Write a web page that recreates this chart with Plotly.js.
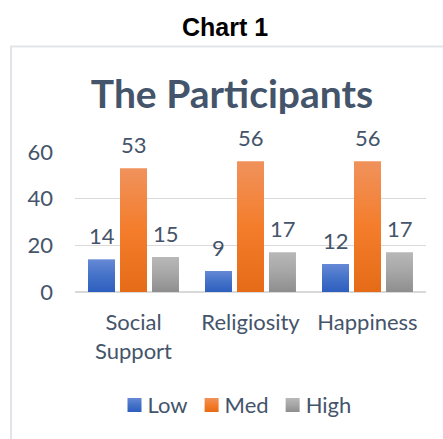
<!DOCTYPE html>
<html><head><meta charset="utf-8">
<script src="https://cdn.plot.ly/plotly-3.0.1.min.js"></script>
<style>html,body{margin:0;padding:0;background:#fff;}#chart{width:443px;height:439px;}</style>
</head><body><div id="chart"></div>
<script>
const categories = ["Social<br>Support", "Religiosity", "Happiness"];
const seriesNames = ["Low", "Med", "High"];
const lowVals = [14, 9, 12];
const medVals = [53, 56, 56];
const highVals = [15, 17, 17];
const yTicks = [0, 20, 40, 60];

const colors = ["#4472C4", "#ED7D31", "#A5A5A5"];
const grads = [["#6689d6", "#4472c8", "#2e5fc0"], ["#f0925c", "#f47d2b", "#e56b17"], ["#b8b8b8", "#a6a6a6", "#8e8e8e"]];
const textColor = "#44546A";
const fontFam = "Lato, 'Noto Sans', sans-serif";
const fs = 22;

const allVals = [lowVals, medVals, highVals];
const traces = allVals.map((v, i) => ({
  type: "bar", name: seriesNames[i], x: categories, y: v,
  marker: {color: colors[i]}, hoverinfo: "none"
}));

const L = 75, R = 426, T = 152, B = 292.5;
const px = x => (x - L) / (R - L);
const py = y => (B - y) / (B - T);

const shifts = [-32, 0, 32];
const annotations = [];
allVals.forEach((v, i) => {
  v.forEach((val, j) => {
    annotations.push({x: categories[j], y: val, xref: "x", yref: "y", text: String(val),
      showarrow: false, xshift: shifts[i], yshift: 24, yanchor: "middle",
      font: {family: fontFam, size: fs, color: textColor}});
  });
});
annotations.push({x: px(225), y: py(27), xref: "paper", yref: "paper", text: "<b>Chart 1</b>",
  showarrow: false, xanchor: "center", yanchor: "middle",
  font: {family: "'Liberation Sans', Arial, sans-serif", size: 25, color: "#000"}});

const layout = {
  width: 443, height: 439,
  margin: {l: L, r: 443 - R, t: T, b: 439 - B},
  paper_bgcolor: "#fff", plot_bgcolor: "#fff",
  barmode: "group", bargap: 0.18, bargroupgap: 0.156,
  showlegend: true,
  title: {text: "<b>The Participants</b>", x: 232 / 443, xref: "container", xanchor: "center",
    y: 1 - 94 / 439, yref: "container", yanchor: "middle",
    font: {family: fontFam, size: 39, color: textColor}},
  xaxis: {tickfont: {family: fontFam, size: fs, color: textColor}, showline: false, ticks: "",
    ticklabelstandoff: 15, fixedrange: true},
  yaxis: {range: [0, 60], tickvals: yTicks, tickfont: {family: fontFam, size: fs, color: textColor},
    showgrid: true, gridcolor: "#d9d9d9", gridwidth: 1.5, zeroline: true, zerolinecolor: "#d9d9d9",
    zerolinewidth: 1.5, showline: false, ticks: "", ticklabelstandoff: 21, fixedrange: true},
  legend: {orientation: "h", x: px(237), xanchor: "center", y: py(406), yanchor: "middle",
    font: {family: fontFam, size: fs, color: textColor}, itemwidth: 30, traceorder: "normal"},
  annotations: annotations,
  shapes: [{type: "rect", xref: "paper", yref: "paper", x0: px(11), x1: px(470), y0: py(470), y1: py(46),
    line: {color: "#e1e5ea", width: 2}, fillcolor: "rgba(0,0,0,0)", layer: "below"}]
};

Plotly.newPlot("chart", traces, layout, {staticPlot: true}).then(gd => {
  const svg = gd.querySelector("svg.main-svg");
  const ns = "http://www.w3.org/2000/svg";
  let defs = svg.querySelector("defs");
  if (!defs) { defs = document.createElementNS(ns, "defs"); svg.insertBefore(defs, svg.firstChild); }
  grads.forEach((g, i) => {
    const lg = document.createElementNS(ns, "linearGradient");
    lg.setAttribute("id", "bargrad" + i);
    lg.setAttribute("x1", "0"); lg.setAttribute("y1", "0"); lg.setAttribute("x2", "0"); lg.setAttribute("y2", "1");
    [[0, g[0]], [0.5, g[1]], [1, g[2]]].forEach(([o, c]) => {
      const s = document.createElementNS(ns, "stop");
      s.setAttribute("offset", o); s.setAttribute("stop-color", c); lg.appendChild(s);
    });
    defs.appendChild(lg);
  });
  gd.querySelectorAll(".barlayer .trace").forEach((tr, i) => {
    tr.querySelectorAll("path").forEach(p => { p.style.fill = "url(#bargrad" + i + ")"; });
  });
  // Excel-like legend: bigger squares, text closer to the icon, tighter item pitch
  const items = gd.querySelectorAll(".legend .traces");
  items.forEach((tr, i) => {
    tr.querySelectorAll(".legendpoints path").forEach(p => {
      p.setAttribute("d", "M7,7H-7V-7H7Z");
      p.style.fill = "url(#bargrad" + i + ")"; p.style.stroke = "none";
    });
    const t = tr.querySelector("text.legendtext");
    if (t) t.setAttribute("x", 33);
    // pull items together (reference pitch is tighter than Plotly's)
    const m = /translate\(([-\d.]+),\s*([-\d.]+)\)/.exec(tr.getAttribute("transform") || "");
    if (m) tr.setAttribute("transform", "translate(" + (parseFloat(m[1]) - i * 8 + 10) + "," + m[2] + ")");
  });
});
</script></body></html>
